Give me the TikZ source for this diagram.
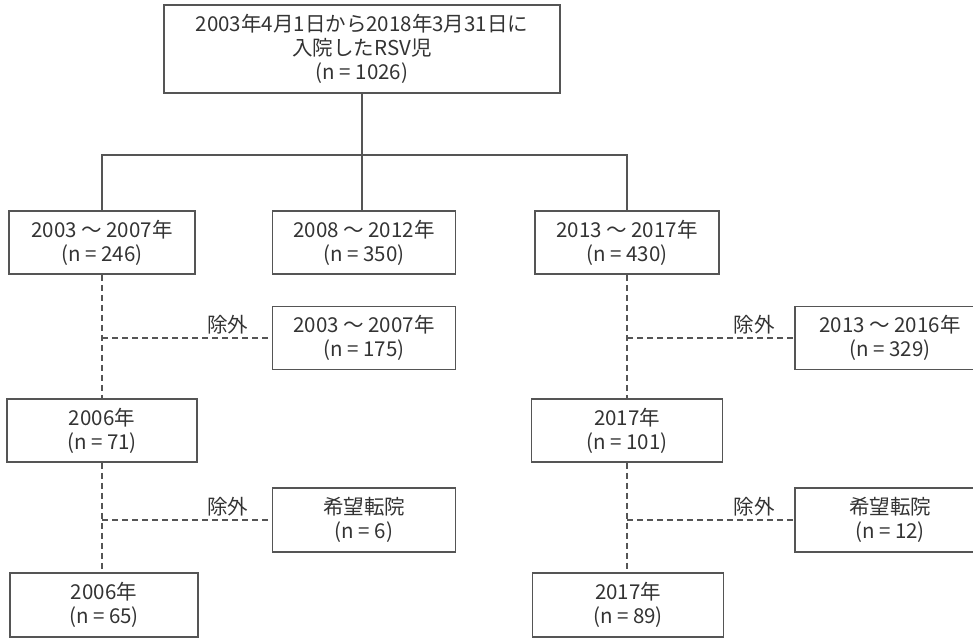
\documentclass[tikz,border=0pt]{standalone}
\usepackage{fontspec}
\setmainfont{Noto Sans CJK JP}
\usepackage{xcolor}
\definecolor{txt}{HTML}{333333}
\definecolor{edge}{HTML}{555555}

\begin{document}
\begin{tikzpicture}[x=1pt,y=-1pt,
    box/.style={draw=edge,line width=1.6pt,text=txt,align=center,inner sep=0pt,minimum height=63pt,font=\fontsize{20.5}{24}\selectfont},
    link/.style={draw=edge,line width=1.4pt},
    excl/.style={link,dash pattern=on 6pt off 4pt},
    lab/.style={text=txt,inner sep=3pt,font=\fontsize{20.5}{24}\selectfont}]
\clip (0,0) rectangle (973,638);

\node (a) at (362,49) [box,minimum width=396pt,minimum height=88pt] {2003年4月1日から2018年3月31日に\\入院したRSV児\\(n = 1026)};

\node (b1) at (102,242.5) [box,minimum width=186pt] {2003 〜 2007年\\(n = 246)};
\node (b2) at (364,242.5) [box,minimum width=183pt] {2008 〜 2012年\\(n = 350)};
\node (b3) at (627,242.5) [box,minimum width=184pt] {2013 〜 2017年\\(n = 430)};

\node (x1) at (364,338) [box,minimum width=183pt] {2003 〜 2007年\\(n = 175)};
\node (x3) at (890,338) [box,minimum width=190pt] {2013 〜 2016年\\(n = 329)};

\node (c1) at (102,430.5) [box,minimum width=190pt] {2006年\\(n = 71)};
\node (c3) at (627,430.5) [box,minimum width=191pt] {2017年\\(n = 101)};

\node (y1) at (364,520) [box,minimum width=183pt,minimum height=64pt] {希望転院\\(n = 6)};
\node (y3) at (890,520) [box,minimum width=190pt,minimum height=64pt] {希望転院\\(n = 12)};

\node (d1) at (104,605) [box,minimum width=188pt,minimum height=64pt] {2006年\\(n = 65)};
\node (d3) at (628,605) [box,minimum width=191pt,minimum height=64pt] {2017年\\(n = 89)};

% split by period
\coordinate (h) at (362,155);
\draw[link] (a.south) -- (h);
\draw[link] (h) -| (b1.north);
\draw[link] (h) -| (b3.north);
\draw[link] (h) -- (b2.north -| h);

% exclusions
\draw[excl] (b1.south) -- (c1.north);
\draw[excl] (c1.south) -- (d1.north -| c1.south);
\draw[excl] (b1.south |- x1.west) -- node[lab,above,pos=0.74] {除外} (x1.west);
\draw[excl] (c1.south |- y1.west) -- node[lab,above,pos=0.74] {除外} (y1.west);

\draw[excl] (b3.south) -- (c3.north);
\draw[excl] (c3.south) -- (d3.north -| c3.south);
\draw[excl] (b3.south |- x3.west) -- node[lab,above,pos=0.76] {除外} (x3.west);
\draw[excl] (c3.south |- y3.west) -- node[lab,above,pos=0.76] {除外} (y3.west);

\end{tikzpicture}
\end{document}
